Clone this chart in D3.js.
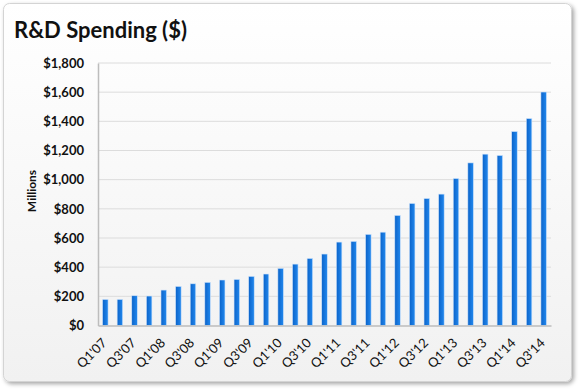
<!DOCTYPE html>
<html><head><meta charset="utf-8">
<script src="https://cdn.jsdelivr.net/npm/d3@7"></script>
<style>
html,body{margin:0;padding:0;background:#fff;}
svg{display:block;}
</style></head>
<body>
<script>
const quarters = ["Q1'07","Q2'07","Q3'07","Q4'07","Q1'08","Q2'08","Q3'08","Q4'08","Q1'09","Q2'09","Q3'09","Q4'09","Q1'10","Q2'10","Q3'10","Q4'10","Q1'11","Q2'11","Q3'11","Q4'11","Q1'12","Q2'12","Q3'12","Q4'12","Q1'13","Q2'13","Q3'13","Q4'13","Q1'14","Q2'14","Q3'14"];
const spending = [179,179,204,202,243,268,286,296,312,316,337,353,392,421,460,490,572,577,625,640,755,837,871,901,1008,1115,1175,1166,1330,1419,1601];
const yTicks = [0,200,400,600,800,1000,1200,1400,1600,1800];
const shownLabels = quarters.filter((q,i)=>i%2===0);

const W=580,H=390;
const svg=d3.select("body").append("svg").attr("width",W).attr("height",H);
const defs=svg.append("defs");
const bg=defs.append("linearGradient").attr("id","bg").attr("x1",0).attr("y1",0).attr("x2",0).attr("y2",1);
bg.append("stop").attr("offset","0%").attr("stop-color","#ffffff");
bg.append("stop").attr("offset","100%").attr("stop-color","#f1f1f1");
const bar=defs.append("linearGradient").attr("id","bar").attr("x1",0).attr("y1",0).attr("x2",1).attr("y2",0);
bar.append("stop").attr("offset","0%").attr("stop-color","#0b63c9");
bar.append("stop").attr("offset","100%").attr("stop-color","#2288ee");
const sh=defs.append("filter").attr("id","sh").attr("x","-5%").attr("y","-5%").attr("width","110%").attr("height","110%");
sh.append("feDropShadow").attr("dx",2).attr("dy",2).attr("stdDeviation",2).attr("flood-color","#000").attr("flood-opacity",0.35);

svg.append("rect").attr("x",3.5).attr("y",3.5).attr("width",568).attr("height",378).attr("rx",6)
  .attr("fill","url(#bg)").attr("stroke","#d4d4d4").attr("filter","url(#sh)");

const font="Lato, 'Open Sans', sans-serif";
svg.append("text").attr("x",14).attr("y",38).text("R&D Spending ($)")
  .attr("font-family",font).attr("font-weight",700).attr("font-size",22).attr("fill","#111");

const m={l:98,r:551,t:63,b:325.5};
const x=d3.scaleBand().domain(quarters).range([m.l,m.r]).paddingInner(0.62).paddingOuter(0.31);
const y=d3.scaleLinear().domain([0,1800]).range([m.b,m.t]);

const g=svg.append("g");
g.selectAll("line.grid").data(yTicks.slice(1)).enter().append("line")
  .attr("x1",m.l).attr("x2",m.r).attr("y1",d=>y(d)).attr("y2",d=>y(d))
  .attr("stroke","#dcdcdc").attr("stroke-width",1);

const yAxis=g.append("g").attr("transform",`translate(${m.l},0)`)
  .call(d3.axisLeft(y).tickValues(yTicks).tickSize(0).tickPadding(14).tickFormat(d=>"$"+d3.format(",")(d)));
yAxis.select(".domain").attr("stroke","#bdbdbd").attr("stroke-width",1.5);
yAxis.selectAll("text").attr("font-family",font).attr("font-weight",700).attr("font-size",13).attr("fill","#111");

g.selectAll("rect.bar").data(spending).enter().append("rect")
  .attr("x",(d,i)=>x(quarters[i])).attr("width",x.bandwidth())
  .attr("y",d=>y(d)).attr("height",d=>y(0)-y(d))
  .attr("fill","url(#bar)").attr("stroke","#cfe3fa").attr("stroke-width",0.6);

const xAxis=g.append("g").attr("transform",`translate(0,${m.b})`)
  .call(d3.axisBottom(x).tickValues(shownLabels).tickSize(0).tickPadding(0));
xAxis.select(".domain").attr("stroke","#bdbdbd").attr("stroke-width",1.5);
xAxis.selectAll("text").attr("font-family",font).attr("font-size",13).attr("fill","#111")
  .attr("text-anchor","end").attr("transform","translate(-1,15) rotate(-45)").attr("dy","0.35em").attr("dx","0").attr("y",0);

svg.append("text").attr("transform",`translate(36,191) rotate(-90)`).attr("text-anchor","middle")
  .text("Millions").attr("font-family",font).attr("font-weight",700).attr("font-size",12).attr("fill","#111");
</script>
</body></html>
